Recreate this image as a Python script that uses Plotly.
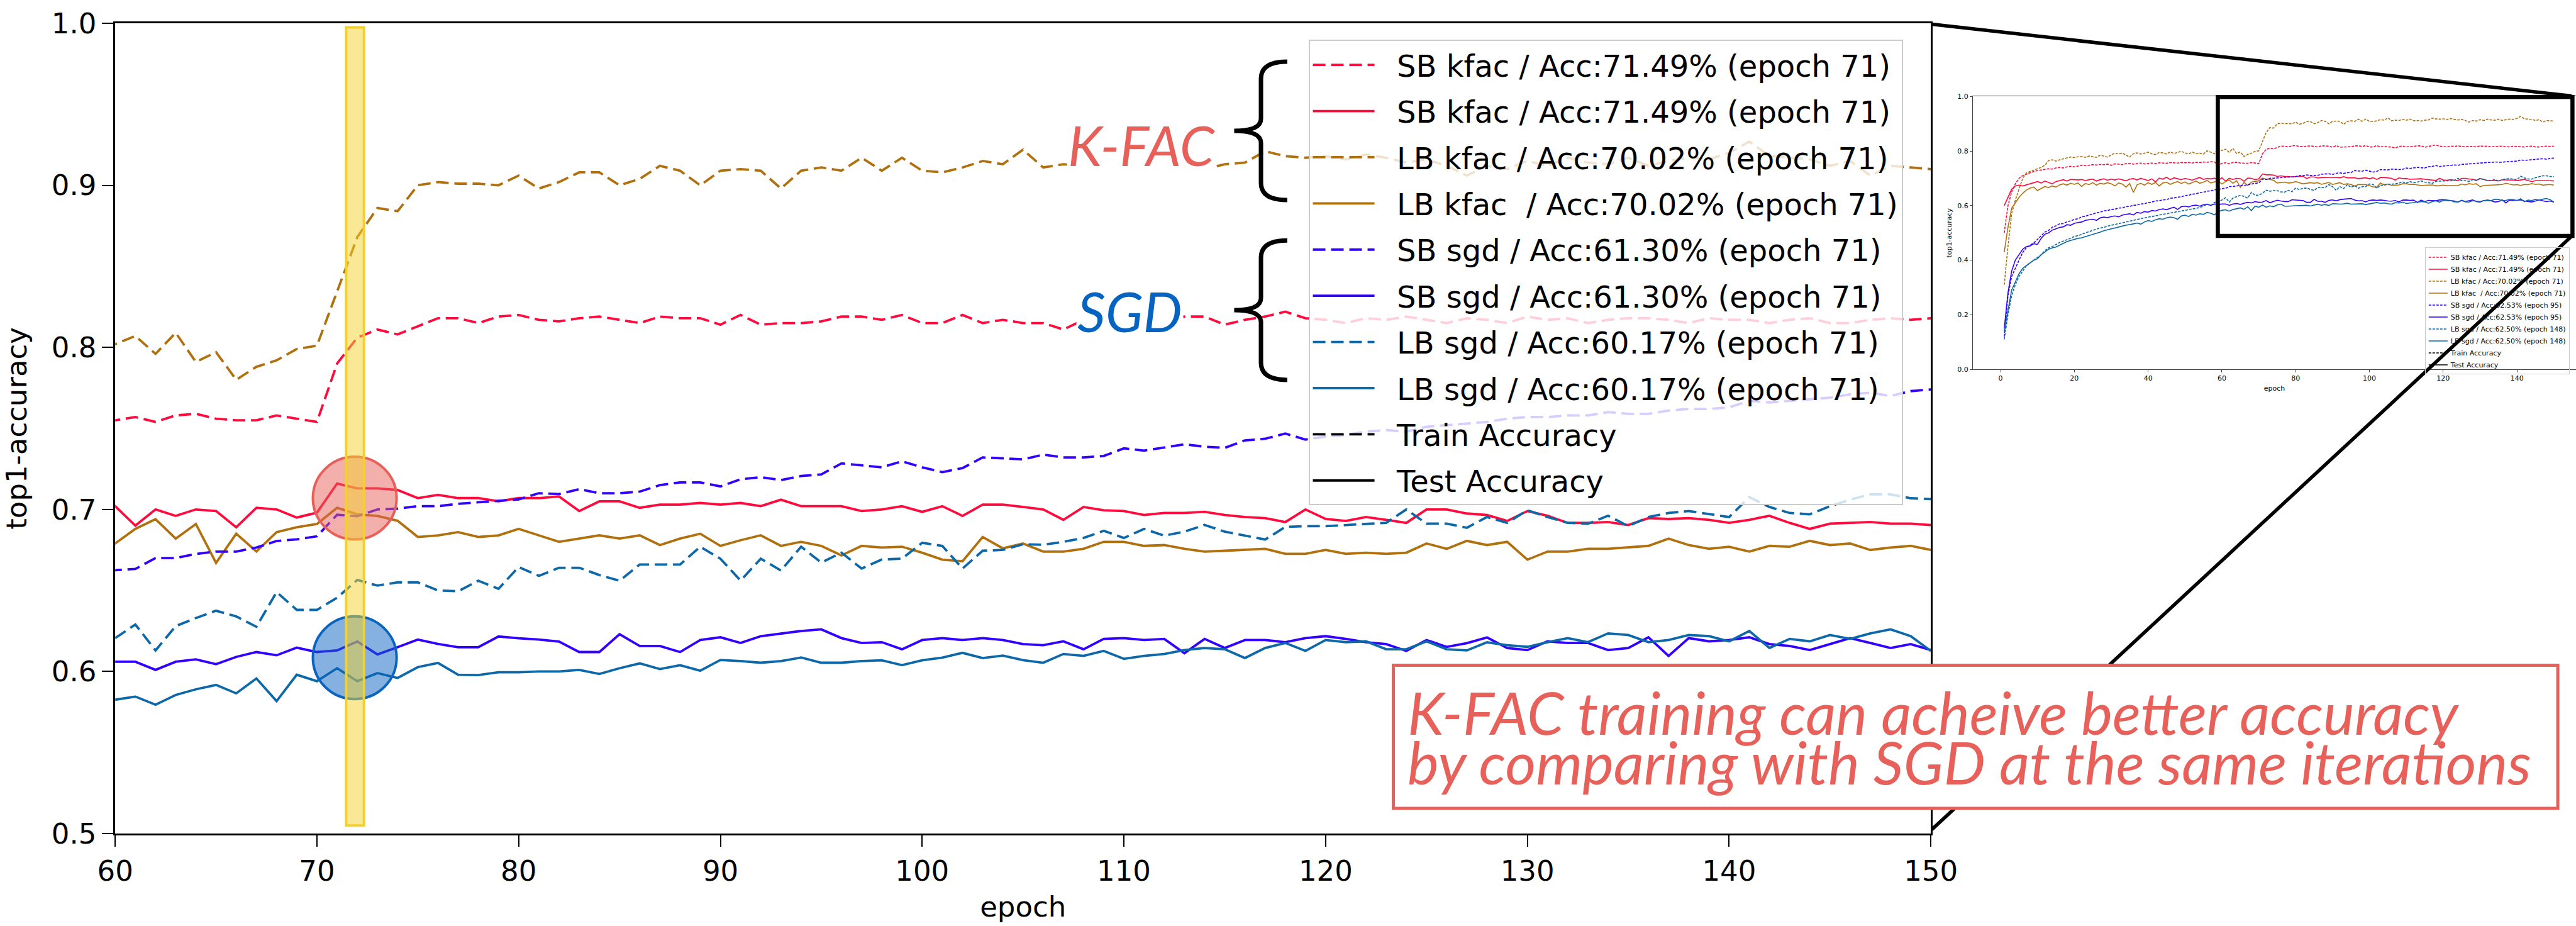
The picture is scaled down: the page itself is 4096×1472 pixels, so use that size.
import plotly.graph_objects as go

# ---------------- reference geometry helpers (reference is 5099 x 1833) ----------------
W_REF, H_REF = 5099, 1833
W, H = 4096, 1472


def px(x):
    return x / W_REF


def py(y):
    return 1 - y / H_REF


# ---------------- data ----------------
EPOCHS = list(range(1, 151))

SB_KFAC_TRAIN = [
    0.500, 0.600, 0.650, 0.680, 0.700, 0.710, 0.715, 0.720, 0.725, 0.728,
    0.730, 0.733, 0.735, 0.734, 0.738, 0.740, 0.738, 0.742, 0.744, 0.742,
    0.745, 0.748, 0.746, 0.748, 0.750, 0.749, 0.751, 0.750, 0.752, 0.748,
    0.753, 0.752, 0.750, 0.754, 0.755, 0.752, 0.754, 0.756, 0.753, 0.755,
    0.756, 0.754, 0.757, 0.756, 0.755, 0.758, 0.757, 0.756, 0.758, 0.757,
    0.758, 0.756, 0.759, 0.758, 0.760, 0.759, 0.761, 0.760, 0.748, 0.755,
    0.757, 0.754, 0.758, 0.759, 0.756, 0.755, 0.755, 0.758, 0.756, 0.754,
    0.790, 0.806, 0.811, 0.808, 0.813, 0.818, 0.818, 0.815, 0.819, 0.820,
    0.817, 0.816, 0.818, 0.819, 0.817, 0.815, 0.819, 0.818, 0.818, 0.814,
    0.820, 0.814, 0.815, 0.815, 0.816, 0.819, 0.819, 0.817, 0.820, 0.815,
    0.815, 0.820, 0.815, 0.817, 0.815, 0.815, 0.811, 0.817, 0.818, 0.815,
    0.817, 0.817, 0.819, 0.819, 0.814, 0.817, 0.819, 0.822, 0.818, 0.817,
    0.815, 0.818, 0.817, 0.819, 0.817, 0.815, 0.818, 0.817, 0.815, 0.819,
    0.817, 0.818, 0.815, 0.817, 0.818, 0.818, 0.817, 0.815, 0.818, 0.817,
    0.817, 0.815, 0.817, 0.818, 0.815, 0.815, 0.817, 0.818, 0.817, 0.818,
]

SB_KFAC_TEST = [
    0.600, 0.630, 0.660, 0.672, 0.675, 0.672, 0.676, 0.680, 0.684, 0.688,
    0.683, 0.690, 0.685, 0.680, 0.688, 0.692, 0.695, 0.690, 0.696, 0.695,
    0.694, 0.696, 0.692, 0.695, 0.697, 0.690, 0.695, 0.698, 0.693, 0.697,
    0.694, 0.698, 0.695, 0.691, 0.697, 0.699, 0.694, 0.700, 0.696, 0.692,
    0.698, 0.687, 0.701, 0.697, 0.704, 0.695, 0.702, 0.698, 0.695, 0.700,
    0.697, 0.693, 0.699, 0.703, 0.696, 0.700, 0.698, 0.701, 0.692, 0.702,
    0.690, 0.700, 0.696, 0.700, 0.699, 0.689, 0.701, 0.700, 0.695, 0.698,
    0.716, 0.713, 0.713, 0.712, 0.707, 0.709, 0.707, 0.707, 0.705, 0.707,
    0.707, 0.708, 0.699, 0.705, 0.705, 0.701, 0.703, 0.703, 0.704, 0.703,
    0.704, 0.702, 0.706, 0.702, 0.702, 0.702, 0.699, 0.700, 0.702, 0.6985,
    0.702, 0.696, 0.703, 0.703, 0.7015, 0.700, 0.6936, 0.7015, 0.6995, 0.699,
    0.6966, 0.6978, 0.6978, 0.6985, 0.6966, 0.6953, 0.6946, 0.6922, 0.700, 0.6941,
    0.6929, 0.6953, 0.6936, 0.6917, 0.700, 0.700, 0.6975, 0.6966, 0.6929, 0.699,
    0.6961, 0.6917, 0.6917, 0.6922, 0.6904, 0.6946, 0.6941, 0.6946, 0.6936, 0.6917,
    0.6936, 0.6961, 0.6917, 0.688, 0.6912, 0.6917, 0.6922, 0.6912, 0.6912, 0.6904,
]

LB_KFAC_TRAIN = [
    0.310, 0.450, 0.570, 0.620, 0.660, 0.700, 0.720, 0.725, 0.730, 0.735,
    0.740, 0.748, 0.765, 0.768, 0.763, 0.768, 0.772, 0.775, 0.778, 0.776,
    0.779, 0.780, 0.777, 0.782, 0.779, 0.777, 0.785, 0.782, 0.778, 0.786,
    0.792, 0.790, 0.793, 0.785, 0.778, 0.790, 0.793, 0.789, 0.792, 0.796,
    0.790, 0.787, 0.795, 0.793, 0.789, 0.797, 0.791, 0.795, 0.799, 0.793,
    0.790, 0.796, 0.790, 0.792, 0.789, 0.801, 0.796, 0.790, 0.810, 0.802,
    0.807, 0.796, 0.809, 0.791, 0.797, 0.780, 0.788, 0.792, 0.799, 0.801,
    0.835, 0.868, 0.886, 0.884, 0.900, 0.902, 0.901, 0.901, 0.900, 0.906,
    0.898, 0.902, 0.908, 0.908, 0.900, 0.904, 0.912, 0.909, 0.900, 0.909,
    0.910, 0.909, 0.898, 0.909, 0.911, 0.909, 0.917, 0.909, 0.917, 0.909,
    0.908, 0.911, 0.915, 0.913, 0.922, 0.911, 0.913, 0.912, 0.916, 0.913,
    0.917, 0.911, 0.912, 0.910, 0.913, 0.914, 0.921, 0.918, 0.917, 0.918,
    0.916, 0.919, 0.917, 0.914, 0.916, 0.912, 0.906, 0.912, 0.910, 0.915,
    0.912, 0.917, 0.914, 0.913, 0.917, 0.912, 0.915, 0.917, 0.916, 0.920,
    0.927, 0.918, 0.917, 0.916, 0.912, 0.915, 0.906, 0.912, 0.911, 0.910,
]

LB_KFAC_TEST = [
    0.430, 0.520, 0.590, 0.610, 0.630, 0.645, 0.657, 0.664, 0.668, 0.655,
    0.662, 0.670, 0.666, 0.672, 0.668, 0.676, 0.680, 0.675, 0.682, 0.678,
    0.683, 0.670, 0.681, 0.677, 0.684, 0.675, 0.682, 0.679, 0.684, 0.680,
    0.672, 0.683, 0.679, 0.668, 0.681, 0.648, 0.676, 0.682, 0.675, 0.684,
    0.678, 0.685, 0.672, 0.683, 0.686, 0.678, 0.684, 0.688, 0.681, 0.687,
    0.679, 0.684, 0.690, 0.682, 0.686, 0.692, 0.683, 0.687, 0.690, 0.679,
    0.688, 0.694, 0.682, 0.691, 0.667, 0.685, 0.674, 0.686, 0.689, 0.691,
    0.701, 0.697, 0.696, 0.693, 0.683, 0.684, 0.686, 0.683, 0.684, 0.688,
    0.684, 0.680, 0.682, 0.684, 0.682, 0.684, 0.678, 0.682, 0.685, 0.6775,
    0.681, 0.684, 0.6775, 0.680, 0.6775, 0.6716, 0.6775, 0.6765, 0.677, 0.6733,
    0.669, 0.668, 0.683, 0.676, 0.679, 0.674, 0.674, 0.6757, 0.680, 0.680,
    0.6775, 0.678, 0.6757, 0.674, 0.6745, 0.675, 0.6757, 0.6726, 0.6726, 0.675,
    0.6726, 0.6733, 0.6726, 0.6733, 0.679, 0.6757, 0.6806, 0.678, 0.680, 0.669,
    0.674, 0.674, 0.6757, 0.6757, 0.6765, 0.6775, 0.682, 0.678, 0.6757, 0.677,
    0.674, 0.6775, 0.677, 0.6806, 0.678, 0.679, 0.675, 0.6765, 0.6775, 0.675,
]

SB_SGD_TRAIN = [
    0.120, 0.270, 0.340, 0.372, 0.400, 0.428, 0.446, 0.455, 0.463, 0.476,
    0.489, 0.503, 0.509, 0.521, 0.526, 0.533, 0.534, 0.541, 0.544, 0.549,
    0.552, 0.559, 0.561, 0.566, 0.569, 0.574, 0.576, 0.581, 0.582, 0.586,
    0.587, 0.591, 0.592, 0.596, 0.597, 0.601, 0.602, 0.606, 0.607, 0.611,
    0.613, 0.617, 0.618, 0.621, 0.622, 0.627, 0.628, 0.631, 0.632, 0.637,
    0.638, 0.642, 0.643, 0.648, 0.649, 0.653, 0.654, 0.658, 0.659, 0.6625,
    0.6633, 0.670, 0.670, 0.6725, 0.674, 0.674, 0.6765, 0.6805, 0.6815, 0.6834,
    0.6967, 0.6958, 0.700, 0.7005, 0.702, 0.702, 0.7035, 0.7045, 0.7055, 0.7062,
    0.710, 0.7095, 0.7125, 0.710, 0.710, 0.711, 0.715, 0.7167, 0.7167, 0.7142,
    0.7186, 0.7199, 0.7181, 0.7206, 0.7216, 0.7284, 0.7272, 0.726, 0.7297, 0.726,
    0.723, 0.7255, 0.7321, 0.7314, 0.7309, 0.7338, 0.7321, 0.7321, 0.733, 0.7377,
    0.7363, 0.7382, 0.7402, 0.7387, 0.738, 0.7426, 0.7436, 0.7468, 0.7431, 0.745,
    0.746, 0.748, 0.749, 0.748, 0.751, 0.752, 0.753, 0.754, 0.756, 0.757,
    0.757, 0.758, 0.758, 0.760, 0.759, 0.759, 0.761, 0.762, 0.762, 0.763,
    0.767, 0.766, 0.767, 0.768, 0.769, 0.771, 0.772, 0.770, 0.773, 0.774,
]

SB_SGD_TEST = [
    0.150, 0.280, 0.360, 0.400, 0.420, 0.440, 0.450, 0.452, 0.460, 0.458,
    0.480, 0.495, 0.500, 0.510, 0.515, 0.520, 0.522, 0.530, 0.528, 0.535,
    0.538, 0.540, 0.546, 0.548, 0.550, 0.546, 0.555, 0.558, 0.556, 0.560,
    0.562, 0.559, 0.565, 0.568, 0.570, 0.566, 0.575, 0.572, 0.578, 0.576,
    0.582, 0.580, 0.585, 0.588, 0.585, 0.590, 0.594, 0.586, 0.596, 0.598,
    0.595, 0.600, 0.602, 0.598, 0.603, 0.605, 0.601, 0.606, 0.604, 0.606,
    0.606, 0.601, 0.606, 0.6075, 0.6045, 0.609, 0.612, 0.610, 0.6147, 0.612,
    0.613, 0.6185, 0.6105, 0.615, 0.6197, 0.617, 0.615, 0.615, 0.6216, 0.6205,
    0.6197, 0.6185, 0.612, 0.612, 0.623, 0.6157, 0.6157, 0.612, 0.6194, 0.6211,
    0.6176, 0.6218, 0.6235, 0.625, 0.626, 0.6206, 0.6176, 0.6181, 0.6137, 0.6194,
    0.6206, 0.6194, 0.6206, 0.6194, 0.6169, 0.6162, 0.6186, 0.6137, 0.6201, 0.6206,
    0.6194, 0.6201, 0.6113, 0.6201, 0.6145, 0.6194, 0.6194, 0.6181, 0.6206, 0.6218,
    0.6201, 0.6181, 0.6169, 0.6127, 0.6194, 0.6152, 0.6175, 0.621, 0.6145, 0.6132,
    0.6186, 0.6176, 0.6176, 0.6132, 0.6145, 0.6211, 0.6096, 0.6206, 0.6186, 0.6194,
    0.6211, 0.6169, 0.6157, 0.6132, 0.6169, 0.6206, 0.6176, 0.6145, 0.6169, 0.6132,
]

LB_SGD_TRAIN = [
    0.110, 0.200, 0.270, 0.310, 0.340, 0.360, 0.380, 0.390, 0.400, 0.410,
    0.420, 0.435, 0.445, 0.450, 0.458, 0.465, 0.470, 0.475, 0.480, 0.487,
    0.490, 0.495, 0.500, 0.505, 0.510, 0.514, 0.518, 0.520, 0.525, 0.528,
    0.532, 0.535, 0.538, 0.540, 0.544, 0.547, 0.550, 0.553, 0.556, 0.558,
    0.560, 0.563, 0.566, 0.568, 0.570, 0.573, 0.576, 0.578, 0.580, 0.583,
    0.586, 0.588, 0.590, 0.593, 0.598, 0.605, 0.600, 0.612, 0.615, 0.6206,
    0.629, 0.613, 0.628, 0.633, 0.6375, 0.634, 0.6276, 0.649, 0.638, 0.638,
    0.6455, 0.6565, 0.653, 0.655, 0.655, 0.650, 0.6495, 0.656, 0.651, 0.6645,
    0.659, 0.664, 0.664, 0.6595, 0.656, 0.666, 0.666, 0.666, 0.677, 0.6696,
    0.6561, 0.6696, 0.6623, 0.677, 0.6672, 0.6733, 0.6635, 0.6691, 0.6696, 0.6794,
    0.6775, 0.6635, 0.6745, 0.675, 0.6785, 0.6782, 0.680, 0.6824, 0.6868, 0.6824,
    0.688, 0.6838, 0.6863, 0.6904, 0.6863, 0.6838, 0.6814, 0.6892, 0.6897, 0.6897,
    0.6904, 0.6912, 0.6917, 0.700, 0.6912, 0.6912, 0.6887, 0.6953, 0.6917, 0.6995,
    0.6953, 0.6917, 0.6912, 0.6961, 0.6897, 0.6953, 0.6978, 0.699, 0.697, 0.6953,
    0.7076, 0.7015, 0.6978, 0.697, 0.702, 0.706, 0.7093, 0.7093, 0.7069, 0.7064,
]

LB_SGD_TEST = [
    0.140, 0.220, 0.290, 0.320, 0.350, 0.370, 0.380, 0.390, 0.400, 0.405,
    0.420, 0.430, 0.440, 0.445, 0.448, 0.455, 0.462, 0.468, 0.472, 0.476,
    0.480, 0.482, 0.486, 0.490, 0.494, 0.498, 0.503, 0.508, 0.512, 0.515,
    0.518, 0.522, 0.525, 0.528, 0.530, 0.533, 0.536, 0.532, 0.540, 0.545,
    0.542, 0.548, 0.552, 0.550, 0.555, 0.558, 0.556, 0.550, 0.562, 0.565,
    0.560, 0.568, 0.565, 0.570, 0.568, 0.575, 0.572, 0.566, 0.578, 0.5826,
    0.5845, 0.5795, 0.5855, 0.589, 0.5917, 0.5865, 0.5957, 0.5817, 0.598, 0.594,
    0.602, 0.594, 0.599, 0.596, 0.6027, 0.6053, 0.598, 0.5978, 0.5995, 0.5995,
    0.600, 0.600, 0.601, 0.5985, 0.602, 0.605, 0.6015, 0.6039, 0.6005, 0.6071,
    0.6064, 0.6054, 0.6064, 0.6086, 0.6054, 0.6054, 0.6064, 0.6069, 0.6039, 0.6069,
    0.6086, 0.6115, 0.6083, 0.6098, 0.607, 0.6054, 0.6108, 0.6096, 0.6127, 0.6078,
    0.6096, 0.6108, 0.6132, 0.6145, 0.6137, 0.6083, 0.6145, 0.6176, 0.6127, 0.6194,
    0.6181, 0.6186, 0.6137, 0.6137, 0.6186, 0.6137, 0.613, 0.618, 0.6162, 0.6152,
    0.6181, 0.6206, 0.6181, 0.6235, 0.6225, 0.6181, 0.6194, 0.6225, 0.6218, 0.6186,
    0.625, 0.6145, 0.6201, 0.6186, 0.6225, 0.6201, 0.6235, 0.626, 0.6218, 0.6127,
]

MAIN_LABELS = [
    "SB kfac / Acc:71.49% (epoch 71)",
    "SB kfac / Acc:71.49% (epoch 71)",
    "LB kfac / Acc:70.02% (epoch 71)",
    "LB kfac\u00a0 / Acc:70.02% (epoch 71)",
    "SB sgd / Acc:61.30% (epoch 71)",
    "SB sgd / Acc:61.30% (epoch 71)",
    "LB sgd / Acc:60.17% (epoch 71)",
    "LB sgd / Acc:60.17% (epoch 71)",
]
INSET_LABELS = [
    "SB kfac / Acc:71.49% (epoch 71)",
    "SB kfac / Acc:71.49% (epoch 71)",
    "LB kfac / Acc:70.02% (epoch 71)",
    "LB kfac\u00a0 / Acc:70.02% (epoch 71)",
    "SB sgd / Acc:62.53% (epoch 95)",
    "SB sgd / Acc:62.53% (epoch 95)",
    "LB sgd / Acc:62.50% (epoch 148)",
    "LB sgd / Acc:62.50% (epoch 148)",
]
SERIES = [SB_KFAC_TRAIN, SB_KFAC_TEST, LB_KFAC_TRAIN, LB_KFAC_TEST,
          SB_SGD_TRAIN, SB_SGD_TEST, LB_SGD_TRAIN, LB_SGD_TEST]
IS_TRAIN = [True, False, True, False, True, False, True, False]

C_SBK = "#ff0a3c"
C_LBK = "#b0700e"
C_SBS = "#3300ff"
C_LBS = "#0c68a8"
COLORS = [C_SBK, C_SBK, C_LBK, C_LBK, C_SBS, C_SBS, C_LBS, C_LBS]

X_TICKS = [60, 70, 80, 90, 100, 110, 120, 130, 140, 150]
Y_TICKS = [0.5, 0.6, 0.7, 0.8, 0.9, 1.0]
INSET_X_TICKS = [0, 20, 40, 60, 80, 100, 120, 140]
INSET_Y_TICKS = [0.0, 0.2, 0.4, 0.6, 0.8, 1.0]

RED_TXT = "#e8605a"
BLUE_TXT = "#0563c1"

# small lead so the legend text sits as far from its line sample as in the original
LEAD = "\u00a0\u00a0"

fig = go.Figure()

MAIN_DASH = "20px,9px"
INSET_DASH = "4px,2px"

# main chart traces
for i, (ys, lab, col, tr) in enumerate(zip(SERIES, MAIN_LABELS, COLORS, IS_TRAIN)):
    fig.add_trace(go.Scatter(
        x=EPOCHS, y=ys, mode="lines", name=LEAD + lab,
        line=dict(color=col, width=3.8, dash=MAIN_DASH if tr else "solid"),
        legend="legend", legendgroup=f"g{i}", xaxis="x", yaxis="y",
        hoverinfo="skip"))
fig.add_trace(go.Scatter(x=[None], y=[None], mode="lines", name=LEAD + "Train Accuracy",
                         line=dict(color="black", width=3.8, dash=MAIN_DASH),
                         legend="legend", legendgroup="g8", xaxis="x", yaxis="y"))
fig.add_trace(go.Scatter(x=[None], y=[None], mode="lines", name=LEAD + "Test Accuracy",
                         line=dict(color="black", width=3.8),
                         legend="legend", legendgroup="g9", xaxis="x", yaxis="y"))

# inset traces
for ys, lab, col, tr in zip(SERIES, INSET_LABELS, COLORS, IS_TRAIN):
    fig.add_trace(go.Scatter(
        x=EPOCHS, y=ys, mode="lines", name=lab,
        line=dict(color=col, width=1.6, dash=INSET_DASH if tr else "solid"),
        legend="legend2", xaxis="x2", yaxis="y2", hoverinfo="skip"))
fig.add_trace(go.Scatter(x=[None], y=[None], mode="lines", name="Train Accuracy",
                         line=dict(color="black", width=1.6, dash=INSET_DASH),
                         legend="legend2", xaxis="x2", yaxis="y2"))
fig.add_trace(go.Scatter(x=[None], y=[None], mode="lines", name="Test Accuracy",
                         line=dict(color="black", width=1.6),
                         legend="legend2", xaxis="x2", yaxis="y2"))

FONT = "DejaVu Sans"
TICK_FS = 45

fig.update_layout(
    width=W, height=H,
    margin=dict(l=0, r=0, t=0, b=0, autoexpand=False),
    paper_bgcolor="white", plot_bgcolor="white",
    showlegend=True,
    font=dict(family=FONT, color="black"),
    xaxis=dict(
        domain=[px(228), px(3822)], range=[60, 150], tickvals=X_TICKS,
        showgrid=False, zeroline=False, showline=True, mirror=True, automargin=False,
        linecolor="black", linewidth=2.5, ticks="outside", ticklen=18, tickwidth=2,
        tickcolor="black", tickfont=dict(family=FONT, size=TICK_FS),
        title=dict(text="epoch", font=dict(family=FONT, size=TICK_FS), standoff=16),
        anchor="y"),
    yaxis=dict(
        domain=[py(1650), py(46)], range=[0.5, 1.0], tickvals=Y_TICKS, tickformat=".1f",
        showgrid=False, zeroline=False, showline=True, mirror=True, automargin=False,
        linecolor="black", linewidth=2.5, ticks="outside", ticklen=18, tickwidth=2,
        tickcolor="black", tickfont=dict(family=FONT, size=TICK_FS),
        title=dict(text="top1-accuracy", font=dict(family=FONT, size=TICK_FS), standoff=26),
        anchor="x"),
    xaxis2=dict(
        domain=[px(3905), 1.0], range=[-7.53, 156], tickvals=INSET_X_TICKS,
        showgrid=False, zeroline=False, showline=True, mirror=True, automargin=False,
        linecolor="#444444", linewidth=1, ticks="outside", ticklen=4, tickwidth=1,
        tickfont=dict(family=FONT, size=11),
        title=dict(text="epoch", font=dict(family=FONT, size=11), standoff=6),
        anchor="y2"),
    yaxis2=dict(
        domain=[py(731), py(191)], range=[0, 1], tickvals=INSET_Y_TICKS, tickformat=".1f",
        showgrid=False, zeroline=False, showline=True, mirror=False, automargin=False,
        linecolor="#444444", linewidth=1, ticks="outside", ticklen=4, tickwidth=1,
        tickfont=dict(family=FONT, size=11),
        title=dict(text="top1-accuracy", font=dict(family=FONT, size=11), standoff=6),
        anchor="x2"),
    legend=dict(
        x=px(2590), y=py(79), xanchor="left", yanchor="top",
        bgcolor="rgba(255,255,255,0.8)", bordercolor="#cccccc", borderwidth=2,
        font=dict(family=FONT, size=48, color="black"),
        itemwidth=98, tracegroupgap=8, traceorder="grouped"),
    legend2=dict(
        x=px(4800), y=py(490), xanchor="left", yanchor="top",
        bgcolor="rgba(255,255,255,0)", bordercolor="#cccccc", borderwidth=1,
        font=dict(family=FONT, size=11, color="black"),
        itemwidth=30, tracegroupgap=0),
)

shapes = []

# highlight circles (data coordinates of main axes)
shapes.append(dict(type="circle", xref="x", yref="y", x0=69.8, x1=73.95, y0=0.6815, y1=0.7325,
                   fillcolor="rgba(232,96,90,0.5)", line=dict(color="#e8605a", width=4), layer="above"))
shapes.append(dict(type="circle", xref="x", yref="y", x0=69.8, x1=73.95, y0=0.583, y1=0.634,
                   fillcolor="rgba(10,100,192,0.5)", line=dict(color="#0a64c0", width=4), layer="above"))
# yellow highlight bar at epoch ~72
shapes.append(dict(type="rect", xref="x", yref="y", x0=71.45, x1=72.33, y0=0.505, y1=0.9975,
                   fillcolor="rgba(243,212,45,0.5)", line=dict(color="#f4d02c", width=4), layer="above"))

# zoom rectangle inside the inset
shapes.append(dict(type="rect", xref="paper", yref="paper",
                   x0=px(4390), x1=px(5092), y0=py(467), y1=py(192),
                   line=dict(color="black", width=6.5), fillcolor="rgba(0,0,0,0)", layer="above"))
# connecting lines
shapes.append(dict(type="line", xref="paper", yref="paper",
                   x0=px(3824), y0=py(48), x1=px(5090), y1=py(190),
                   line=dict(color="black", width=5.5), layer="above"))
shapes.append(dict(type="line", xref="paper", yref="paper",
                   x0=px(3824), y0=py(1642), x1=px(5090), y1=py(468),
                   line=dict(color="black", width=5.5), layer="above"))


def brace_path(x_end, x_stem, x_tip, y_top, y_bot, r=34, rt=24):
    y_mid = (y_top + y_bot) / 2

    def P(x, y):
        return f"{px(x):.6f},{py(y):.6f}"
    return ("M " + P(x_end, y_top) +
            " Q " + P(x_stem, y_top) + " " + P(x_stem, y_top + r) +
            " L " + P(x_stem, y_mid - rt) +
            " Q " + P(x_stem, y_mid) + " " + P(x_tip, y_mid) +
            " Q " + P(x_stem, y_mid) + " " + P(x_stem, y_mid + rt) +
            " L " + P(x_stem, y_bot - r) +
            " Q " + P(x_stem, y_bot) + " " + P(x_end, y_bot))


for (yt, yb) in [(122, 396), (476, 752)]:
    shapes.append(dict(type="path", xref="paper", yref="paper",
                       path=brace_path(2548, 2496, 2443, yt, yb),
                       line=dict(color="black", width=7), fillcolor="rgba(0,0,0,0)", layer="above"))

# message box
shapes.append(dict(type="rect", xref="paper", yref="paper",
                   x0=px(2758), x1=px(5063), y0=py(1600), y1=py(1317),
                   fillcolor="white", line=dict(color=RED_TXT, width=5), layer="above"))

fig.update_layout(shapes=shapes)

TXT_FONT = "Lato"
annotations = [
    dict(text="<i>K-FAC</i>", xref="paper", yref="paper", x=px(2260), y=py(287),
         xanchor="center", yanchor="middle", showarrow=False, bgcolor="white",
         font=dict(family=TXT_FONT, size=88, color=RED_TXT)),
    dict(text="<i>SGD</i>", xref="paper", yref="paper", x=px(2236), y=py(615),
         xanchor="center", yanchor="middle", showarrow=False, bgcolor="white",
         font=dict(family=TXT_FONT, size=88, color=BLUE_TXT)),
    dict(text="<i>K-FAC training can acheive better accuracy</i>", xref="paper", yref="paper",
         x=px(2783), y=py(1409), xanchor="left", yanchor="middle", showarrow=False,
         font=dict(family=TXT_FONT, size=94, color=RED_TXT)),
    dict(text="<i>by comparing with SGD at the same iterations</i>", xref="paper", yref="paper",
         x=px(2783), y=py(1507), xanchor="left", yanchor="middle", showarrow=False,
         font=dict(family=TXT_FONT, size=94, color=RED_TXT)),
]
fig.update_layout(annotations=annotations)

fig.write_html("out.html")
